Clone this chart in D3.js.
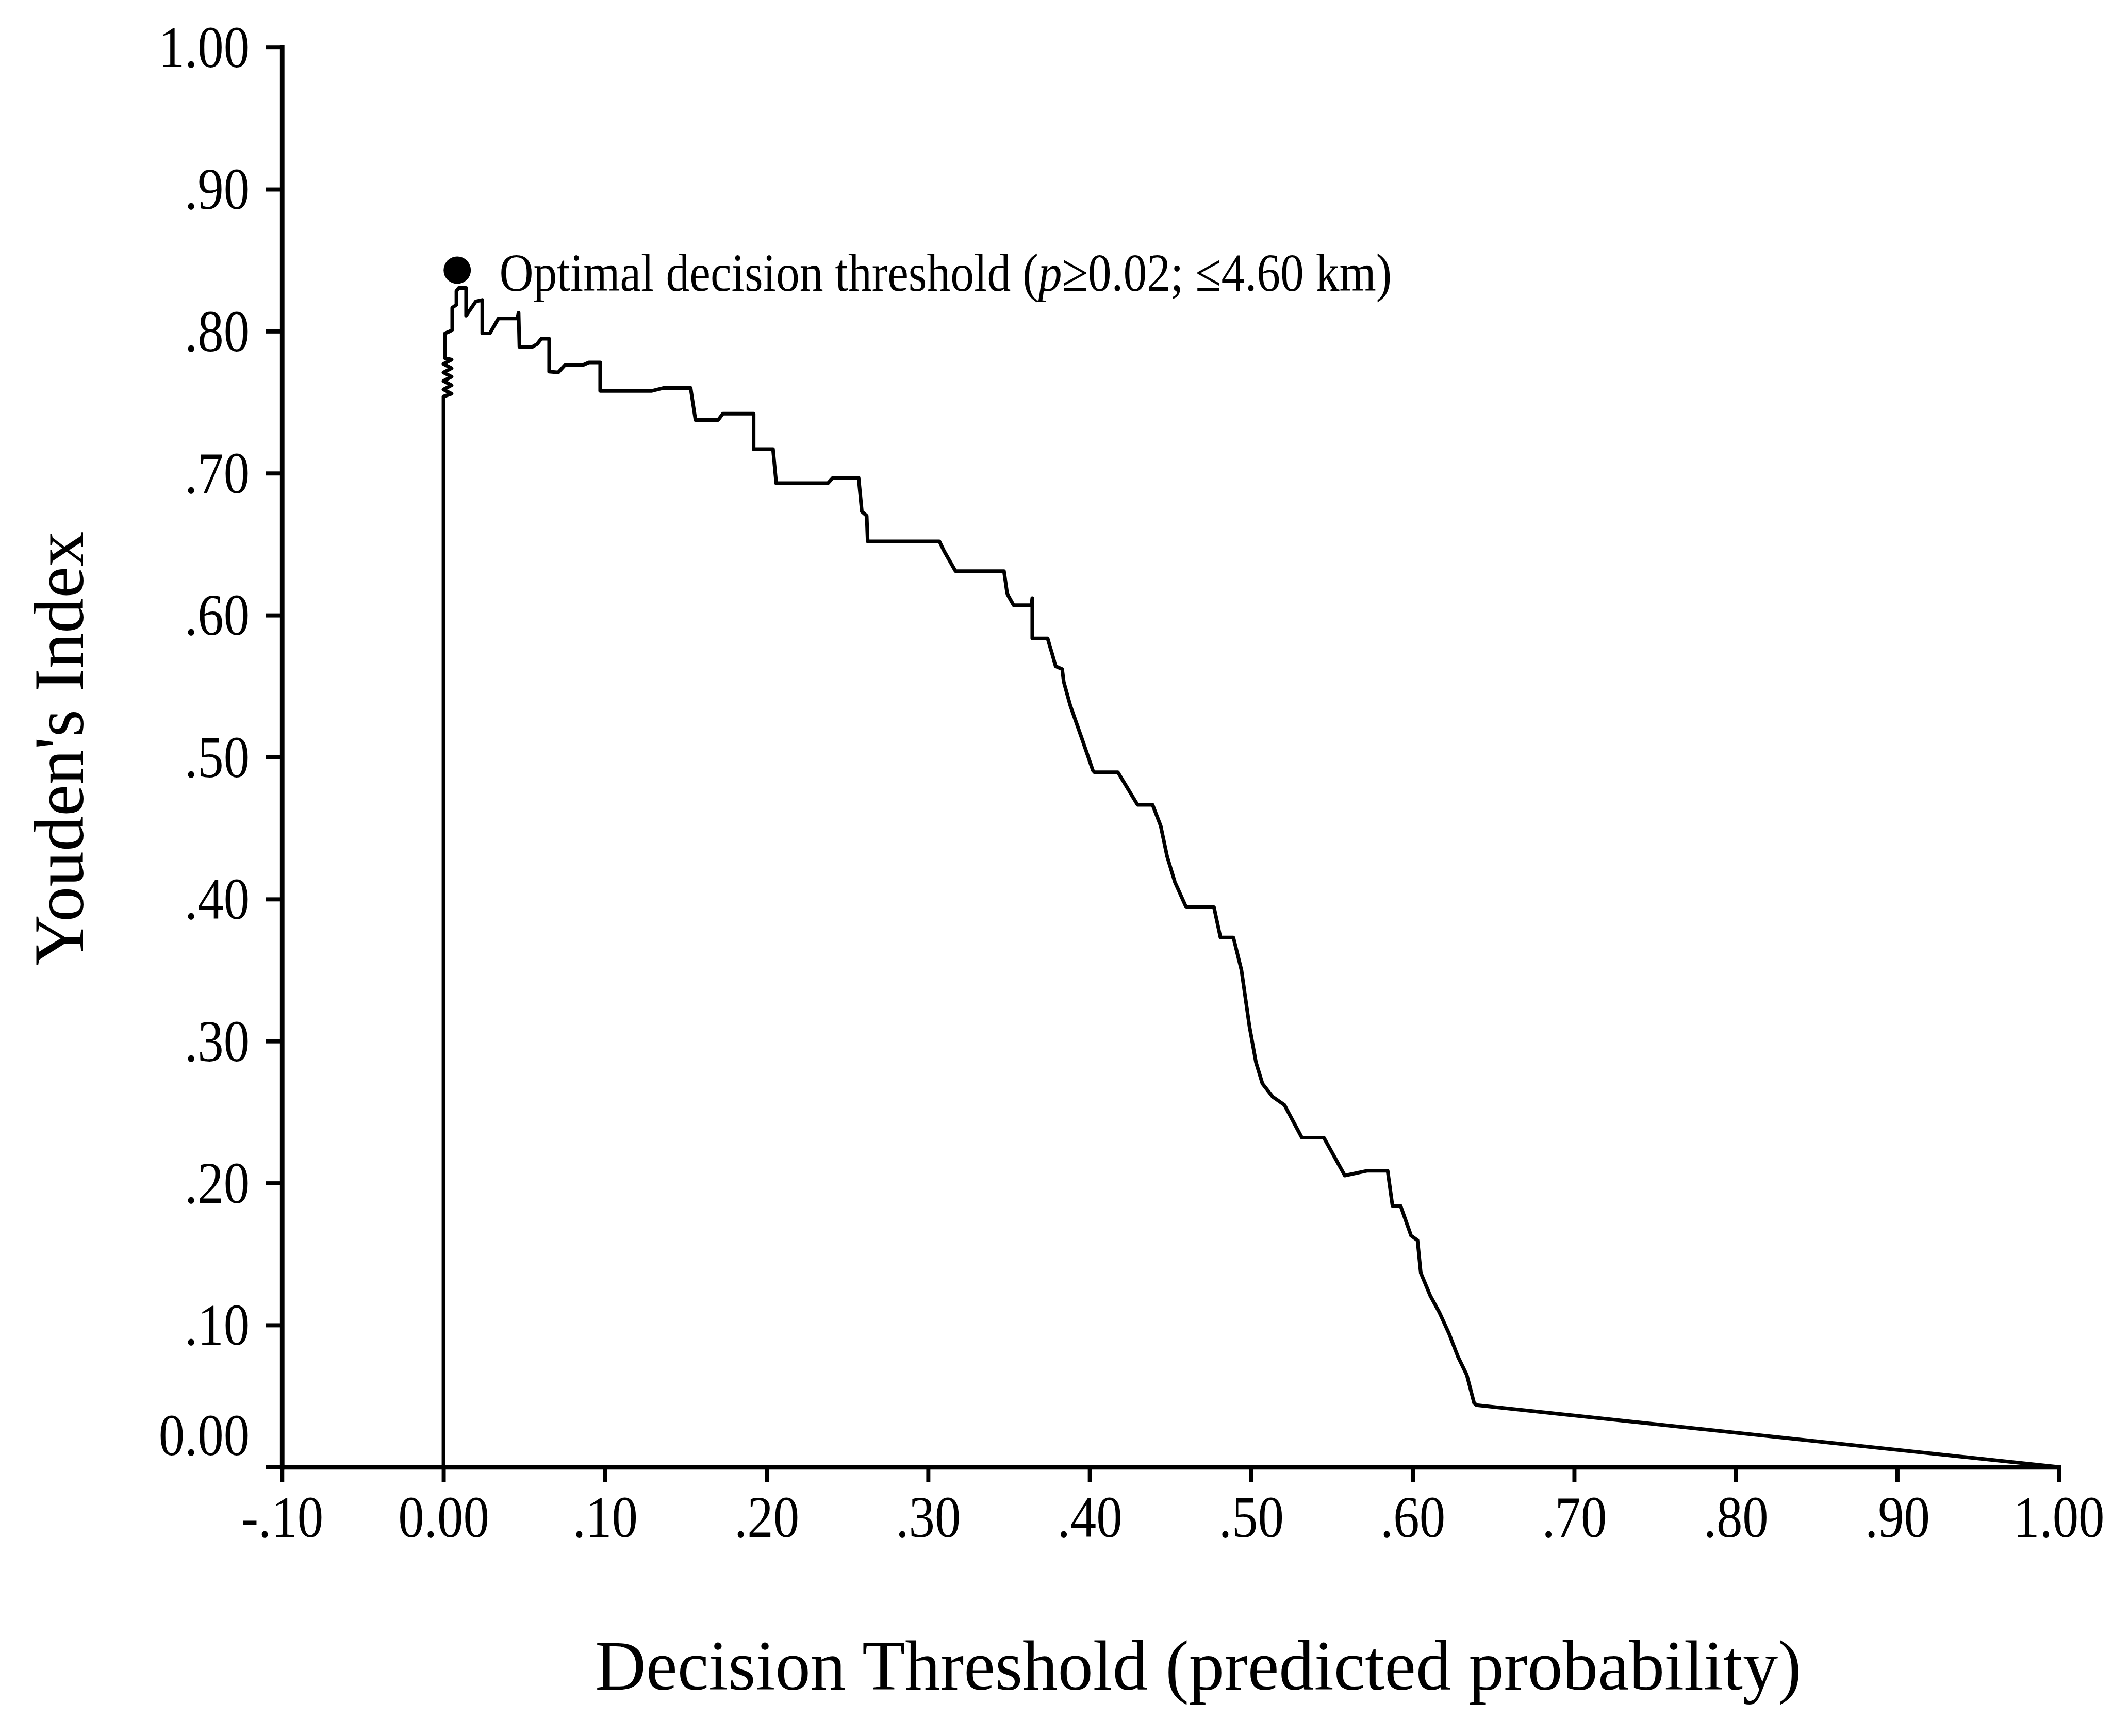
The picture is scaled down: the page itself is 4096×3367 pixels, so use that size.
<!DOCTYPE html>
<html>
<head>
<meta charset="utf-8">
<script src="https://cdn.jsdelivr.net/npm/d3@7"></script>
<style>
  body { margin: 0; background: #fff; }
  text { font-family: "Liberation Serif", "Times New Roman", serif; fill: #000; }
</style>
</head>
<body>
<div id="chart"></div>
<script>
// decision threshold (predicted probability) at each vertex of the curve
var threshold = [
  0.000, 0.000, 0.005, 0.000, 0.005, 0.000, 0.005, 0.000, 0.005, 0.000,
  0.005, 0.001, 0.001, 0.004,
  0.0054, 0.0054, 0.008, 0.008, 0.0095, 0.014, 0.014, 0.020, 0.024, 0.024,
  0.0287, 0.034, 0.0456, 0.0465, 0.047, 0.055, 0.058, 0.0605, 0.0654, 0.0654,
  0.071, 0.075, 0.086, 0.090, 0.097, 0.097, 0.129, 0.136, 0.153, 0.156,
  0.170, 0.173, 0.192, 0.192, 0.204, 0.206, 0.238, 0.241, 0.257, 0.259,
  0.262, 0.2626, 0.307, 0.310, 0.317, 0.347, 0.349, 0.353, 0.364, 0.3645,
  0.3645, 0.374, 0.377, 0.379, 0.383, 0.384, 0.388, 0.395, 0.402, 0.403,
  0.4175, 0.4297, 0.439, 0.444, 0.448, 0.4528, 0.4598, 0.477, 0.481, 0.489,
  0.494, 0.499, 0.503, 0.507, 0.5134, 0.5206, 0.5314, 0.545, 0.558, 0.572,
  0.5845, 0.5875, 0.5925, 0.599, 0.603, 0.605, 0.611, 0.6165, 0.6225, 0.628,
  0.6335, 0.638, 0.6395, 1.000
];
// Youden's index at the same vertices
var youden = [
  0.000, 0.754, 0.756, 0.759, 0.762, 0.765, 0.768, 0.771, 0.774, 0.777,
  0.780, 0.781, 0.7985, 0.800,
  0.801, 0.8165, 0.8187, 0.8283, 0.8305, 0.8305, 0.811, 0.821, 0.822, 0.7985,
  0.7985, 0.809, 0.809, 0.813, 0.789, 0.789, 0.791, 0.7947, 0.7947, 0.7716,
  0.771, 0.776, 0.776, 0.778, 0.778, 0.758, 0.758, 0.760, 0.760, 0.7375,
  0.7375, 0.742, 0.742, 0.717, 0.717, 0.693, 0.693, 0.6967, 0.6967, 0.673,
  0.670, 0.652, 0.652, 0.645, 0.631, 0.631, 0.615, 0.607, 0.607, 0.612,
  0.5836, 0.5836, 0.572, 0.564, 0.562, 0.553, 0.5365, 0.5138, 0.4907, 0.4894,
  0.4894, 0.4664, 0.4664, 0.4516, 0.430, 0.412, 0.3943, 0.3943, 0.373, 0.373,
  0.350, 0.310, 0.285, 0.270, 0.2607, 0.255, 0.232, 0.232, 0.2053, 0.2087,
  0.2087, 0.184, 0.184, 0.163, 0.1597, 0.1368, 0.1204, 0.109, 0.094, 0.0778,
  0.0649, 0.0452, 0.0436, 0.000
];

var optimumThreshold = 0.0085;
var optimumYouden = 0.843;

var xTicks = [-0.1, 0, 0.1, 0.2, 0.3, 0.4, 0.5, 0.6, 0.7, 0.8, 0.9, 1.0];
var xTickLabels = ["-.10", "0.00", ".10", ".20", ".30", ".40", ".50", ".60", ".70", ".80", ".90", "1.00"];
var yTicks = [0, 0.1, 0.2, 0.3, 0.4, 0.5, 0.6, 0.7, 0.8, 0.9, 1.0];
var yTickLabels = ["0.00", ".10", ".20", ".30", ".40", ".50", ".60", ".70", ".80", ".90", "1.00"];

// layout is worked out on a 4641 x 3815 grid, then shrunk to the window
var k = 0.882;
var fullW = 4641, fullH = 3815;
var squeeze = 0.88; // the tick fonts are a little narrow

var svg = d3.select("#chart")
  .append("svg")
  .attr("width", Math.round(fullW * k))
  .attr("height", Math.round(fullH * k));

svg.append("rect")
  .attr("width", "100%")
  .attr("height", "100%")
  .attr("fill", "#fff");

var g = svg.append("g").attr("transform", "scale(" + k + ")");

var x = d3.scaleLinear().domain([-0.1, 1.0]).range([620, 4527]);
var y = d3.scaleLinear().domain([0, 1]).range([3226, 104]);

// Y axis
var yAxis = g.append("g")
  .attr("transform", "translate(" + x(-0.1) + ",0)")
  .call(d3.axisLeft(y)
    .tickValues(yTicks)
    .tickFormat(function(d, i) { return yTickLabels[i]; })
    .tickSize(35)
    .tickSizeOuter(0));

// X axis
var xAxis = g.append("g")
  .attr("transform", "translate(0," + y(0) + ")")
  .call(d3.axisBottom(x)
    .tickValues(xTicks)
    .tickFormat(function(d, i) { return xTickLabels[i]; })
    .tickSize(33)
    .tickSizeOuter(0));

g.selectAll(".domain")
  .attr("stroke", "#000")
  .attr("stroke-width", 10)
  .attr("stroke-linecap", "square");
g.selectAll(".tick line")
  .attr("stroke", "#000")
  .attr("stroke-width", 9);

yAxis.selectAll(".tick text")
  .attr("x", 0)
  .attr("dy", "0.33em")
  .attr("font-size", 130)
  .attr("font-family", null)
  .attr("transform", function(d) {
    // the 0.00 label sits a bit above its tick
    return "translate(-71," + (d === 0 ? -70 : 0) + ") scale(" + squeeze + ",1)";
  });

xAxis.selectAll(".tick text")
  .attr("y", 154)
  .attr("dy", 0)
  .attr("font-size", 130)
  .attr("font-family", null)
  .attr("transform", "scale(" + squeeze + ",1)");

g.selectAll(".tick text").style("font-family", '"Liberation Serif", "Times New Roman", serif');

// Youden's index curve
var points = threshold.map(function(t, i) { return [t, youden[i]]; });

var line = d3.line()
  .x(function(d) { return x(d[0]); })
  .y(function(d) { return y(d[1]); });

g.append("path")
  .datum(points)
  .attr("fill", "none")
  .attr("stroke", "#000")
  .attr("stroke-width", 8)
  .attr("stroke-linejoin", "round")
  .attr("d", line);

// optimal threshold marker and note
g.append("circle")
  .attr("cx", x(optimumThreshold))
  .attr("cy", y(optimumYouden))
  .attr("r", 30)
  .attr("fill", "#000");

var note = g.append("text")
  .attr("transform", "translate(1098,640) scale(" + squeeze + ",1)")
  .attr("font-size", 118);
note.append("tspan").text("Optimal decision threshold (");
note.append("tspan").attr("font-style", "italic").text("p");
note.append("tspan").text("\u22650.02; \u22644.60 km)");

// axis titles
g.append("text")
  .attr("transform", "translate(183,1646) rotate(-90)")
  .attr("text-anchor", "middle")
  .attr("font-size", 155)
  .text("Youden's Index");

g.append("text")
  .attr("x", 2635)
  .attr("y", 3715)
  .attr("text-anchor", "middle")
  .attr("font-size", 155)
  .text("Decision Threshold (predicted probability)");
</script>
</body>
</html>
